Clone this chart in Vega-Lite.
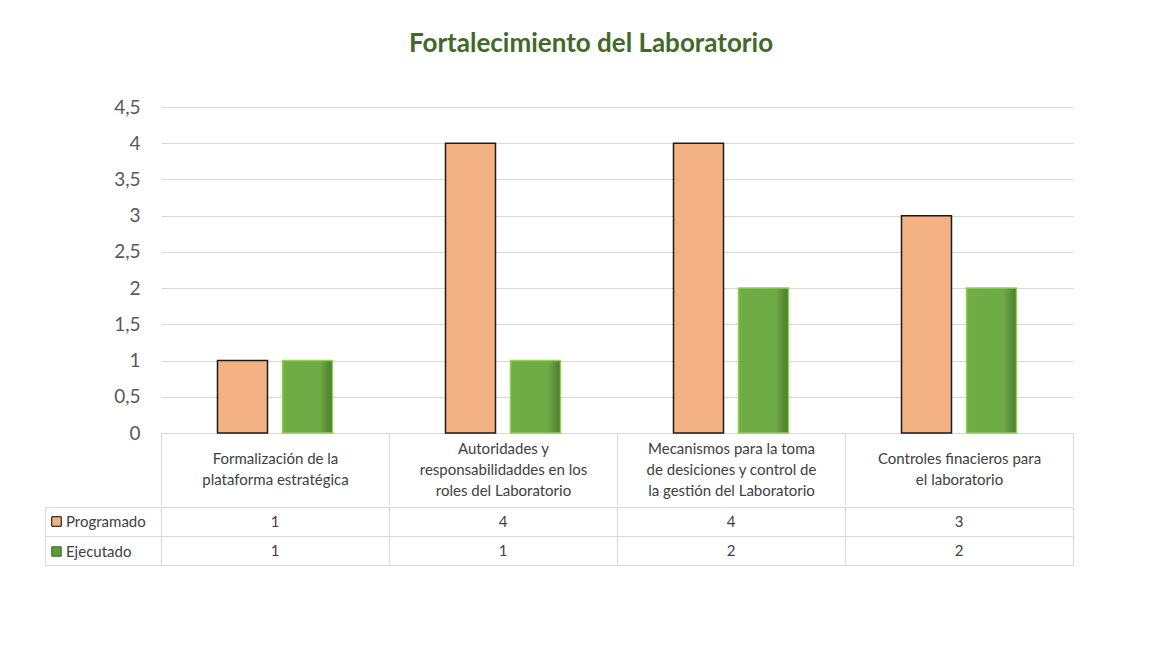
{
  "$schema": "https://vega.github.io/schema/vega-lite/v6.json",
  "background": "white",
  "padding": {"left": 44, "top": 31, "right": 5, "bottom": 5},
  "title": {"text": "Fortalecimiento del Laboratorio", "font": "Lato", "fontSize": 26, "fontWeight": "bold", "color": "#42692A", "anchor": "middle", "dx": 32, "offset": 41},
  "config": {"font": "Lato", "view": {"stroke": null}},
  "datasets": {
    "series": [
      {"categoria": "Formalización de la\nplataforma estratégica", "serie": "Programado", "valor": 1},
      {"categoria": "Formalización de la\nplataforma estratégica", "serie": "Ejecutado", "valor": 1},
      {"categoria": "Autoridades y\nresponsabilidaddes en los\nroles del Laboratorio", "serie": "Programado", "valor": 4},
      {"categoria": "Autoridades y\nresponsabilidaddes en los\nroles del Laboratorio", "serie": "Ejecutado", "valor": 1},
      {"categoria": "Mecanismos para la toma\nde desiciones y control de\nla gestión del Laboratorio", "serie": "Programado", "valor": 4},
      {"categoria": "Mecanismos para la toma\nde desiciones y control de\nla gestión del Laboratorio", "serie": "Ejecutado", "valor": 2},
      {"categoria": "Controles finacieros para\nel laboratorio", "serie": "Programado", "valor": 3},
      {"categoria": "Controles finacieros para\nel laboratorio", "serie": "Ejecutado", "valor": 2}
    ]
  },
  "spacing": 0,
  "resolve": {"scale": {"fill": "independent", "stroke": "independent"}, "legend": {"fill": "independent", "stroke": "independent"}},
  "vconcat": [
    {
      "width": 912,
      "height": 326,
      "data": {"name": "series"},
      "encoding": {
        "x": {
          "field": "categoria", "type": "nominal", "sort": null,
          "scale": {"paddingInner": 0, "paddingOuter": 0},
          "axis": {
            "title": null, "orient": "bottom", "labelAngle": 0,
            "domain": true, "domainColor": "#D9D9D9",
            "ticks": true, "tickBand": "extent", "tickSize": 72, "tickColor": "#D9D9D9",
            "labelExpr": "isValid(datum.value) ? split(datum.value, '\\n') : ''",
            "labelFont": "Lato", "labelFontSize": 15, "labelColor": "#404040",
            "labelLineHeight": 21, "labelBaseline": "middle",
            "labelPadding": {"condition": {"test": "isValid(datum.value) && length(split(datum.value, '\\n')) > 2", "value": -57}, "value": -47},
            "labelLimit": 0, "labelOverlap": false, "labelBound": false, "labelFlush": false
          }
        },
        "xOffset": {"field": "serie", "type": "nominal", "sort": ["Programado", "Ejecutado"], "scale": {"paddingInner": 0.2308, "paddingOuter": 0.8692}},
        "y": {
          "field": "valor", "type": "quantitative",
          "scale": {"domain": [0, 4.5], "nice": false},
          "axis": {
            "title": null, "values": [0, 0.5, 1, 1.5, 2, 2.5, 3, 3.5, 4, 4.5],
            "labelExpr": "replace(toString(datum.value), '.', ',')",
            "domain": false, "ticks": false, "grid": true, "gridColor": "#D9D9D9",
            "labelFont": "Lato", "labelFontSize": 19, "labelColor": "#595959", "labelPadding": 21,
            "minExtent": 116
          }
        }
      },
      "layer": [
        {
          "transform": [{"filter": "datum.serie === 'Programado'"}],
          "mark": {"type": "bar", "fill": "#F4B183", "stroke": "#1A1A1A", "strokeWidth": 1.5}
        },
        {
          "transform": [{"filter": "datum.serie === 'Ejecutado'"}],
          "mark": {
            "type": "bar",
            "fill": {"gradient": "linear", "x1": 0, "y1": 0, "x2": 1, "y2": 0, "stops": [{"offset": 0, "color": "#70AD47"}, {"offset": 0.75, "color": "#6EAA45"}, {"offset": 1, "color": "#4B7A2E"}]},
            "stroke": "#92D050", "strokeWidth": 1.5
          }
        }
      ]
    },
    {
      "width": 912,
      "height": 58,
      "data": {"name": "series"},
      "encoding": {
        "x": {
          "field": "categoria", "type": "nominal", "sort": null,
          "scale": {"paddingInner": 0, "paddingOuter": 0},
          "axis": {"title": null, "orient": "top", "labels": false, "ticks": false, "domain": false, "grid": true, "gridColor": "#D9D9D9", "tickBand": "extent", "minExtent": 0, "maxExtent": 0}
        },
        "y": {
          "field": "serie", "type": "nominal", "sort": ["Programado", "Ejecutado"],
          "scale": {"paddingInner": 0, "paddingOuter": 0},
          "axis": {"title": null, "labels": false, "ticks": true, "tickBand": "extent", "tickSize": -116, "offset": 116, "tickColor": "#D9D9D9", "domain": true, "domainColor": "#D9D9D9", "grid": true, "gridColor": "#D9D9D9", "minExtent": 0}
        }
      },
      "layer": [
        {
          "mark": {"type": "text", "font": "Lato", "fontSize": 15, "color": "#404040", "baseline": "middle"},
          "encoding": {"text": {"field": "valor", "type": "quantitative"}}
        },
        {
          "mark": {"type": "point", "shape": "square", "filled": true, "size": 0, "opacity": 0},
          "encoding": {
            "fill": {
              "field": "serie", "type": "nominal", "sort": ["Programado", "Ejecutado"],
              "scale": {"domain": ["Programado", "Ejecutado"], "range": ["#F4B183", "#5E9A3A"]},
              "legend": {"title": null, "orient": "none", "legendX": -112, "legendY": 7, "symbolType": "square", "symbolSize": 90, "symbolOpacity": 1, "symbolStrokeWidth": 1, "labelFont": "Lato", "labelFontSize": 15, "labelColor": "#404040", "labelOffset": 2, "rowPadding": 14, "padding": 0}
            },
            "stroke": {
              "field": "serie", "type": "nominal", "sort": ["Programado", "Ejecutado"],
              "scale": {"domain": ["Programado", "Ejecutado"], "range": ["#000000", "#3F6B25"]},
              "legend": {"title": null, "orient": "none", "legendX": -112, "legendY": 7, "symbolType": "square", "symbolSize": 90, "symbolOpacity": 1, "symbolStrokeWidth": 1, "labelFont": "Lato", "labelFontSize": 15, "labelColor": "#404040", "labelOffset": 2, "rowPadding": 14, "padding": 0}
            }
          }
        }
      ]
    }
  ]
}
